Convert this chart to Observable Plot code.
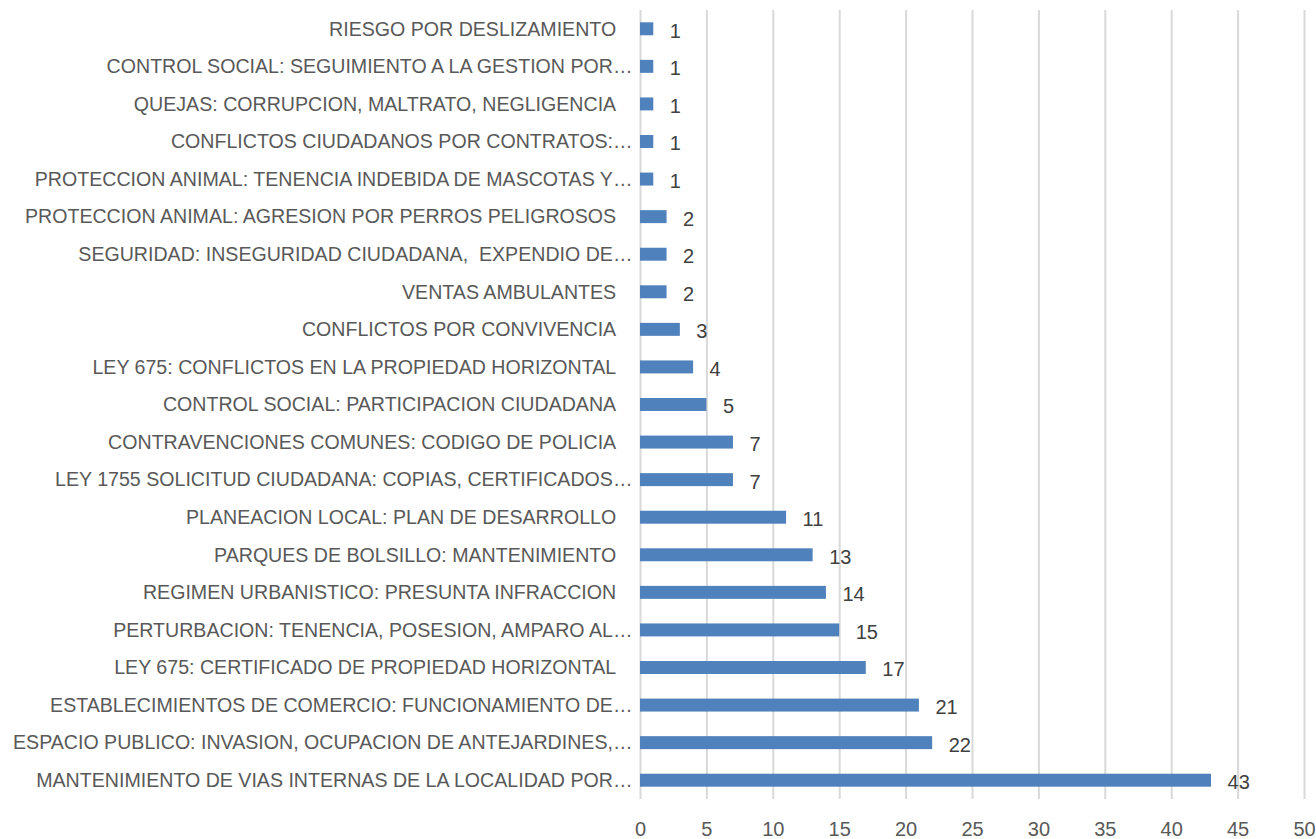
<!DOCTYPE html>
<html>
<head>
<meta charset="utf-8">
<script src="https://cdn.jsdelivr.net/npm/d3@7"></script>
<script src="https://cdn.jsdelivr.net/npm/@observablehq/plot@0.6"></script>
<style>
  html, body { margin: 0; padding: 0; background: #fff; }
  #chart svg { display: block; }
</style>
</head>
<body>
<div id="chart"></div>
<script>
const categories = [
  "RIESGO POR DESLIZAMIENTO",
  "CONTROL SOCIAL: SEGUIMIENTO A LA GESTION POR…",
  "QUEJAS: CORRUPCION, MALTRATO, NEGLIGENCIA",
  "CONFLICTOS CIUDADANOS POR CONTRATOS:…",
  "PROTECCION ANIMAL: TENENCIA INDEBIDA DE MASCOTAS Y…",
  "PROTECCION ANIMAL: AGRESION POR PERROS PELIGROSOS",
  "SEGURIDAD: INSEGURIDAD CIUDADANA,  EXPENDIO DE…",
  "VENTAS AMBULANTES",
  "CONFLICTOS POR CONVIVENCIA",
  "LEY 675: CONFLICTOS EN LA PROPIEDAD HORIZONTAL",
  "CONTROL SOCIAL: PARTICIPACION CIUDADANA",
  "CONTRAVENCIONES COMUNES: CODIGO DE POLICIA",
  "LEY 1755 SOLICITUD CIUDADANA: COPIAS, CERTIFICADOS…",
  "PLANEACION LOCAL: PLAN DE DESARROLLO",
  "PARQUES DE BOLSILLO: MANTENIMIENTO",
  "REGIMEN URBANISTICO: PRESUNTA INFRACCION",
  "PERTURBACION: TENENCIA, POSESION, AMPARO AL…",
  "LEY 675: CERTIFICADO DE PROPIEDAD HORIZONTAL",
  "ESTABLECIMIENTOS DE COMERCIO: FUNCIONAMIENTO DE…",
  "ESPACIO PUBLICO: INVASION, OCUPACION DE ANTEJARDINES,…",
  "MANTENIMIENTO DE VIAS INTERNAS DE LA LOCALIDAD POR…"
];
const values = [1, 1, 1, 1, 1, 2, 2, 2, 3, 4, 5, 7, 7, 11, 13, 14, 15, 17, 21, 22, 43];
const xTicks = [0, 5, 10, 15, 20, 25, 30, 35, 40, 45, 50];

const data = categories.map((c, i) => ({category: c, value: values[i]}));
const fmtLabel = (c) => c.endsWith("…") ? c : c + "\u00a0\u00a0\u00a0";

const font = "Liberation Sans, Arial, sans-serif";

const chart = Plot.plot({
  width: 1316,
  height: 839,
  marginLeft: 640,
  marginRight: 12,
  marginTop: 10,
  marginBottom: 40,
  style: {fontFamily: font, fontSize: "20px", color: "#595959", background: "#fff"},
  x: {domain: [0, 50], ticks: xTicks, label: null},
  y: {domain: categories, paddingInner: 0.655, paddingOuter: 0.3275, round: false, label: null},
  marks: [
    Plot.ruleX(xTicks, {stroke: "#d9d9d9", strokeWidth: 2}),
    Plot.axisX({ticks: xTicks, tickSize: 0, tickPadding: 22, fontSize: 20, fill: "#595959"}),
    Plot.axisY({tickSize: 0, tickPadding: 8, fontSize: 19.6, fill: "#595959", tickFormat: fmtLabel}),
    Plot.barX(data, {x: "value", y: "category", fill: "#4f81bd"}),
    Plot.text(data, {x: "value", y: "category", text: d => String(d.value), textAnchor: "start", dx: 16, dy: 2, fontSize: 20, fill: "#404040"})
  ]
});
document.getElementById("chart").appendChild(chart);
</script>
</body>
</html>
